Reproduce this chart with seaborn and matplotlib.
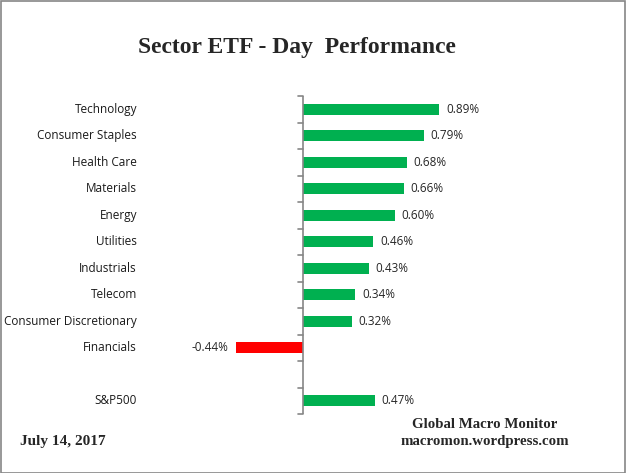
import numpy as np
import pandas as pd
import seaborn as sns
import matplotlib.pyplot as plt
from matplotlib.patches import Rectangle

# chart data
sectors = ['Technology', 'Consumer Staples', 'Health Care', 'Materials', 'Energy',
           'Utilities', 'Industrials', 'Telecom', 'Consumer Discretionary',
           'Financials', ' ', 'S&P500']
values = [0.89, 0.79, 0.68, 0.66, 0.60, 0.46, 0.43, 0.34, 0.32, -0.44, np.nan, 0.47]
value_labels = ['0.89%', '0.79%', '0.68%', '0.66%', '0.60%', '0.46%', '0.43%',
                '0.34%', '0.32%', '-0.44%', '', '0.47%']

df = pd.DataFrame({'sector': sectors, 'value': values})
df['sign'] = np.where(df['value'] < 0, 'neg', 'pos')

sns.set_style('white')
label_font = ['Open Sans', 'DejaVu Sans']

fig = plt.figure(figsize=(6.26, 4.73), dpi=100)
ax = fig.add_axes([211.3 / 626, 1 - 414 / 473, (486.4 - 211.3) / 626, 318 / 473])

sns.barplot(data=df, x='value', y='sector', hue='sign', order=sectors,
            palette={'pos': '#00B050', 'neg': '#FF0000'}, dodge=False,
            legend=False, width=0.41, saturation=1, linewidth=0, ax=ax)

ax.set_xlim(-0.6, 1.2)
ax.set_ylim(len(sectors) - 0.5, -0.5)
ax.set_xlabel('')
ax.set_ylabel('')
ax.set_xticks([])
for s in ['top', 'right', 'bottom', 'left']:
    ax.spines[s].set_visible(False)

# vertical zero line with ticks between categories
ax.axvline(0, color='#868686', lw=1.2)
ax.tick_params(axis='y', which='major', length=0, pad=0)
ax.set_yticklabels([])
for yb in np.arange(-0.5, len(sectors)):
    ax.plot([-0.03, 0], [yb, yb], color='#868686', lw=1.2, clip_on=False)

# category labels, right aligned at a fixed x in the figure
for i, name in enumerate(sectors):
    y_fig = fig.transFigure.inverted().transform(ax.transData.transform((0, i)))[1]
    fig.text(137 / 626, y_fig, name, ha='right', va='center',
             fontsize=8.5, family=label_font, color='#1a1a1a')

# value labels
for i, (v, lab) in enumerate(zip(values, value_labels)):
    if not lab:
        continue
    if v >= 0:
        ax.annotate(lab, (v, i), xytext=(5, 0), textcoords='offset points',
                    ha='left', va='center', fontsize=8.5, family=label_font)
    else:
        ax.annotate(lab, (v, i), xytext=(-5, 0), textcoords='offset points',
                    ha='right', va='center', fontsize=8.5, family=label_font)

serif = ['Liberation Serif', 'DejaVu Serif']
fig.text(297 / 626, 1 - 47 / 473, 'Sector ETF - Day  Performance', ha='center',
         va='center', fontsize=17, fontweight='bold', family=serif)
fig.text(20 / 626, 1 - 441 / 473, 'July 14, 2017', ha='left', va='center',
         fontsize=11, fontweight='bold', family=serif)
fig.text(485 / 626, 1 - 424 / 473, 'Global Macro Monitor', ha='center',
         va='center', fontsize=10.7, fontweight='bold', family=serif)
fig.text(485 / 626, 1 - 441 / 473, 'macromon.wordpress.com', ha='center',
         va='center', fontsize=10.7, fontweight='bold', family=serif)

# outer frame
fig.patches.append(Rectangle((0.5 / 626, 0.5 / 473), 1 - 1.5 / 626, 1 - 1.5 / 473,
                             transform=fig.transFigure, fill=False,
                             edgecolor='#868686', lw=1.2))

fig.savefig('out.png', dpi=100)
